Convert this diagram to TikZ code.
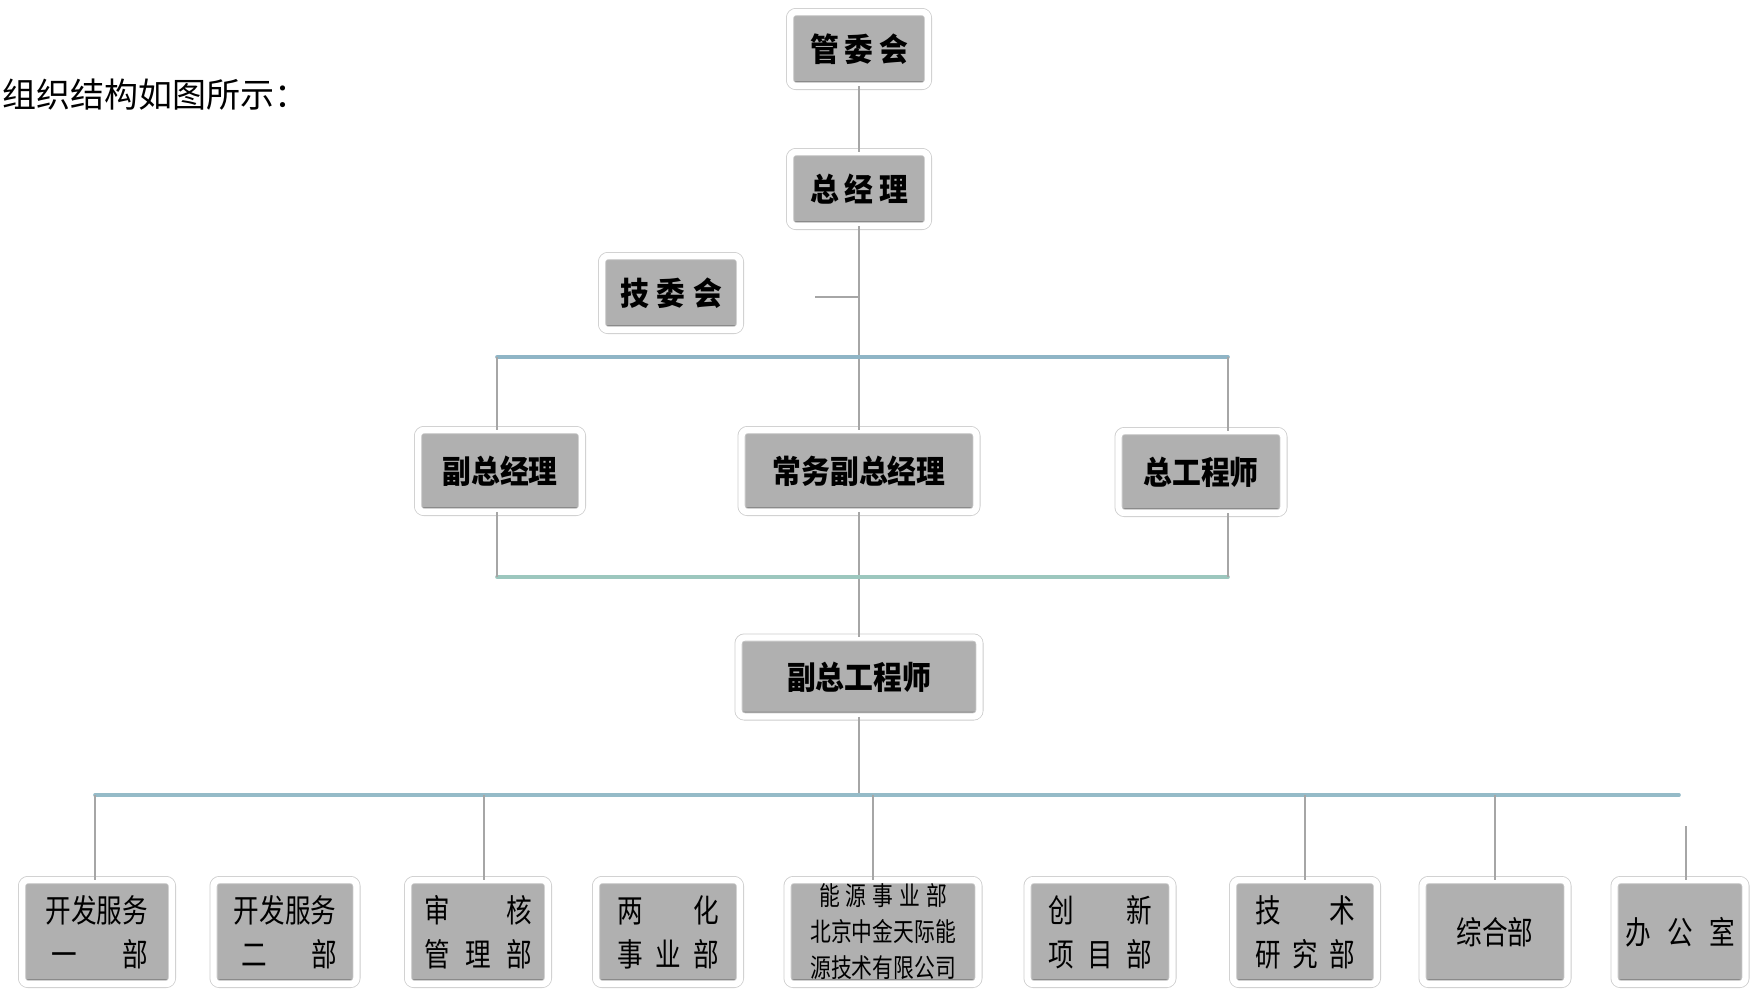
\documentclass[tikz,border=0pt]{standalone}
\usepackage{fontspec}
\usetikzlibrary{shadows}
\newfontfamily\cjk{Noto Sans CJK SC}
\newfontfamily\cjkb[FakeStretch=0.9]{Noto Sans CJK SC}
\newfontfamily\cjkn[FakeStretch=0.8]{Noto Sans CJK SC}
\definecolor{boxgray}{HTML}{B0B0B0}
\definecolor{stripgray}{HTML}{8A8A8A}
\definecolor{busA}{HTML}{8FB5C6}
\definecolor{busB}{HTML}{9CC7BE}
\definecolor{busC}{HTML}{95BBC8}
\tikzset{
  orgbox/.style={rectangle, rounded corners=3pt, fill=boxgray, draw=black!20,
    double=white, double distance=3.2pt, line width=0.4pt, inner sep=0pt,
    align=center,
    drop shadow={shadow xshift=0.5pt, shadow yshift=-1.5pt, opacity=0.3},
    path picture={\fill[stripgray] (path picture bounding box.south west)
      rectangle ([yshift=2.5pt]path picture bounding box.south east);}},
  topbox/.style={orgbox, minimum width=69pt, minimum height=37pt,
    font=\cjkb\bfseries\fontsize{16}{20}\selectfont},
  midbox/.style={orgbox, minimum height=41pt,
    font=\cjkb\bfseries\fontsize{16}{20}\selectfont},
  lowbox/.style={orgbox, minimum height=52pt,
    font=\cjkn\fontsize{16}{22}\selectfont},
  link/.style={draw=black!35, line width=0.8pt},
  busline/.style={line width=1.8pt, line cap=round}
}
\begin{document}
\begin{tikzpicture}[x=0.5pt, y=-0.5pt]
\useasboundingbox (0,0) rectangle (1755,1002);

% title
\node[anchor=west, inner sep=0pt, font=\cjk\fontsize{17}{20}\selectfont] (title) at (2,95) {组织结构如图所示：};

% top
\node[topbox] (gwh) at (859,49) {\makebox[49pt]{管\hfill 委\hfill 会}};
\node[topbox] (zjl) at (859,189) {\makebox[49pt]{总\hfill 经\hfill 理}};
\node[topbox] (jwh) at (671,293) {\makebox[51pt]{技\hfill 委\hfill 会}};

% middle
\node[midbox, minimum width=82pt] (fzjl) at (500,471) {副总经理};
\node[midbox, minimum width=117.5pt] (cwfzjl) at (859,471) {常务副总经理};
\node[midbox, minimum width=82.5pt] (zgcs) at (1201,472) {总工程师};
\node[midbox, minimum width=120.5pt, minimum height=39.5pt] (fzgcs) at (859,677) {副总工程师};

% bottom
\node[lowbox, minimum width=75pt] (b1) at (97,932) {\makebox[51pt]{开发服务}\\\makebox[51pt]{\hspace{3pt}一\hfill 部}};
\node[lowbox, minimum width=71.5pt] (b2) at (285,932) {\makebox[52pt]{开发服务}\\\makebox[52pt]{\hspace{4pt}二\hfill 部}};
\node[lowbox, minimum width=70pt] (b3) at (478,932) {\makebox[54pt]{审\hfill 核}\\\makebox[54pt]{管\hfill 理\hfill 部}};
\node[lowbox, minimum width=72pt] (b4) at (668,932) {\makebox[51pt]{两\hfill 化}\\\makebox[51pt]{事\hfill 业\hfill 部}};
\node[lowbox, minimum width=95.5pt, font=\cjkn\fontsize{13}{18}\selectfont] (b5) at (883,932) {\makebox[64pt]{能\hfill 源\hfill 事\hfill 业\hfill 部}\\北京中金天际能\\源技术有限公司};
\node[lowbox, minimum width=72.5pt] (b6) at (1100,932) {\makebox[52pt]{创\hfill 新}\\\makebox[52pt]{项\hfill 目\hfill 部}};
\node[lowbox, minimum width=72pt] (b7) at (1305,932) {\makebox[50pt]{技\hfill 术}\\\makebox[50pt]{研\hfill 究\hfill 部}};
\node[lowbox, minimum width=72.5pt] (b8) at (1495,932) {综合部};
\node[lowbox, minimum width=65.5pt] (b9) at (1680,932) {\makebox[55pt]{办\hfill 公\hfill 室}};

% coordinates
\coordinate (stub) at (815,297);
\coordinate (ubL) at (497,357);
\coordinate (ubR) at (1228,357);
\coordinate (lbL) at (497,577);
\coordinate (lbR) at (1228,577);
\coordinate (bbL) at (95,795);
\coordinate (bbR) at (1679,795);
\coordinate (b9top) at (1686,826);

% trunk
\draw[link] (gwh) -- (zjl);
\draw[link] (zjl) -- (cwfzjl);
\draw[link] (stub) -- (stub -| zjl.south);
\draw[link] (cwfzjl) -- (fzgcs);
\draw[link] (fzgcs.south) -- (fzgcs.south |- bbL);

% upper / lower bus
\draw[busline, busA] (ubL) -- (ubR);
\draw[link] (ubL) -- (ubL |- fzjl.north);
\draw[link] (ubR) -- (ubR |- zgcs.north);
\draw[busline, busB] (lbL) -- (lbR);
\draw[link] (lbL |- fzjl.south) -- (lbL);
\draw[link] (lbR |- zgcs.south) -- (lbR);

% bottom bus
\draw[busline, busC] (bbL) -- (bbR);
\draw[link] (bbL) -- (bbL |- b1.north);
\draw[link] ([xshift=3pt]b3.north |- bbL) -- ([xshift=3pt]b3.north);
\draw[link] ([xshift=-5pt]b5.north |- bbL) -- ([xshift=-5pt]b5.north);
\draw[link] (b7.north |- bbL) -- (b7.north);
\draw[link] (b8.north |- bbL) -- (b8.north);
\draw[link] (b9top) -- (b9top |- b9.north);
\end{tikzpicture}
\end{document}
